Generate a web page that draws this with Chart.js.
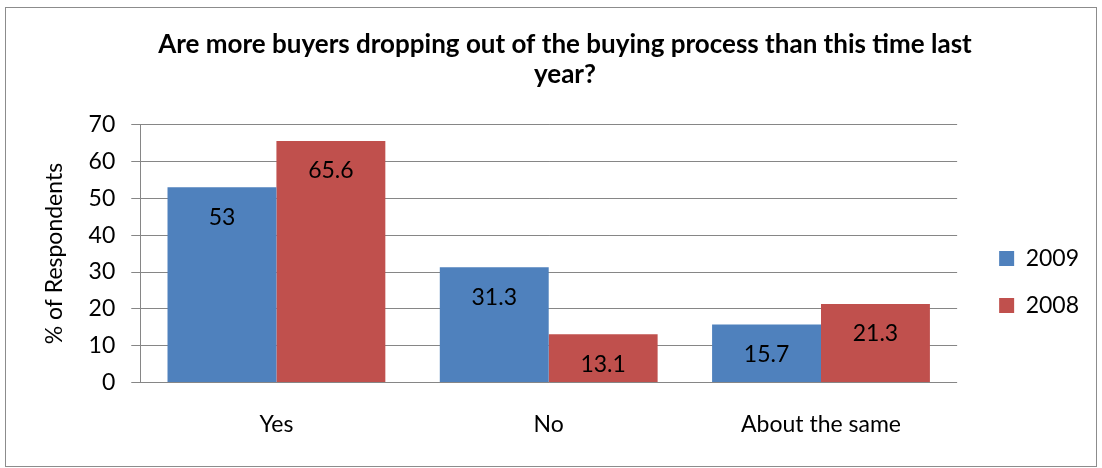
<!DOCTYPE html>
<html>
<head>
<meta charset="utf-8">
<script src="https://cdn.jsdelivr.net/npm/chart.js@4.4.0/dist/chart.umd.min.js"></script>
<style>
  body { margin: 0; background: #fff; }
  #frame { position: absolute; left: 5px; top: 7px; width: 1090px; height: 458px; border: 1px solid #8c8c8c; }
  canvas { display: block; }
</style>
</head>
<body>
<div id="frame"><canvas id="dropoutChart" width="1090" height="458"></canvas></div>
<script>
const categories = ['Yes', 'No', 'About the same'];
const series2009 = [53, 31.3, 15.7];
const series2008 = [65.6, 13.1, 21.3];
const seriesNames = ['2009', '2008'];
const yMin = 0, yMax = 70, yStep = 10;

const FONT = 'Lato';
const FONT_SIZE = 23;
const GRID = '#868686';

// value labels sit inside each bar, a little below its top
const barLabels = {
  id: 'barLabels',
  afterDatasetsDraw(chart) {
    const ctx = chart.ctx;
    ctx.save();
    ctx.font = FONT_SIZE + 'px ' + FONT;
    ctx.fillStyle = '#000';
    ctx.textAlign = 'center';
    ctx.textBaseline = 'middle';
    chart.data.datasets.forEach((ds, i) => {
      chart.getDatasetMeta(i).data.forEach((bar, j) => {
        ctx.fillText(String(ds.data[j]), bar.x, bar.y + 30);
      });
    });
    ctx.restore();
  }
};

new Chart(document.getElementById('dropoutChart'), {
  type: 'bar',
  data: {
    labels: categories,
    datasets: [
      { label: seriesNames[0], data: series2009, backgroundColor: '#4F81BD' },
      { label: seriesNames[1], data: series2008, backgroundColor: '#C0504D' }
    ]
  },
  options: {
    responsive: false,
    animation: false,
    layout: { padding: { left: 35, right: 7, bottom: 0 } },
    datasets: { bar: { barPercentage: 1, categoryPercentage: 0.8 } },
    plugins: {
      tooltip: { enabled: false },
      title: {
        display: true,
        text: ['Are more buyers dropping out of the buying process than this time last', 'year?'],
        color: '#000',
        font: { family: FONT, size: 26, weight: 'bold', lineHeight: 1.15 },
        padding: { top: 22, bottom: 35 }
      },
      legend: {
        position: 'right',
        // blank title pushes the two entries down towards the middle of the plot
        title: { display: true, text: ' ', font: { size: 10 }, padding: { top: 78, bottom: 0 } },
        labels: {
          color: '#000',
          font: { family: FONT, size: FONT_SIZE },
          boxWidth: 15,
          boxHeight: 15,
          padding: 24
        }
      }
    },
    scales: {
      x: {
        grid: { display: false, drawTicks: false },
        border: { display: false },
        ticks: { color: '#000', font: { family: FONT, size: FONT_SIZE }, padding: 28 }
      },
      y: {
        min: yMin,
        max: yMax,
        ticks: { stepSize: yStep, color: '#000', font: { family: FONT, size: FONT_SIZE }, padding: 16 },
        grid: { color: GRID, lineWidth: 1, tickLength: 9 },
        border: { display: true, color: GRID, width: 1 },
        title: {
          display: true,
          text: '% of Respondents',
          color: '#000',
          font: { family: FONT, size: FONT_SIZE },
          padding: { top: 0, bottom: 4 }
        }
      },
      // empty right-hand gap between the plot and the legend
      gap: {
        position: 'right',
        display: true,
        ticks: { display: false },
        grid: { display: false },
        border: { display: false },
        afterFit(scale) { scale.width = 18; }
      }
    }
  },
  plugins: [barLabels]
});
</script>
</body>
</html>
